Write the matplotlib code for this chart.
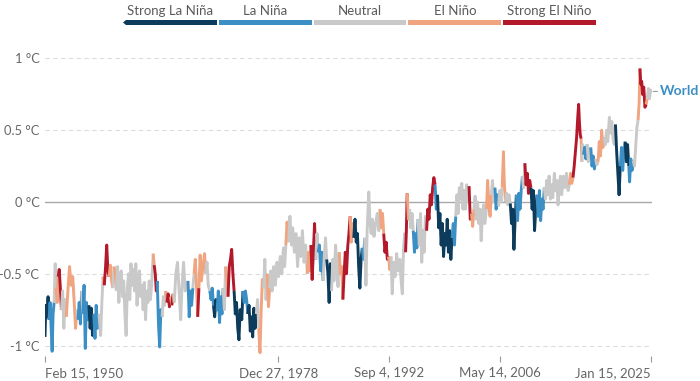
import matplotlib
matplotlib.use("Agg")
import matplotlib.pyplot as plt
from matplotlib.patches import Rectangle, Polygon

plt.rcParams['font.family'] = ['Lato', 'DejaVu Sans']

# monthly-ish global temperature anomaly (deg C)
years = [
    1950.12, 1950.22, 1950.35, 1950.50, 1950.62, 1950.75, 1950.90, 1951.00, 1951.12, 1951.25,
    1951.38, 1951.50, 1951.62, 1951.75, 1951.88, 1952.00, 1952.15, 1952.30, 1952.45, 1952.60,
    1952.75, 1952.95, 1953.15, 1953.35, 1953.55, 1953.75, 1953.90, 1954.05, 1954.20, 1954.35,
    1954.50, 1954.65, 1954.80, 1954.95, 1955.10, 1955.25, 1955.40, 1955.55, 1955.70, 1955.85,
    1956.00, 1956.15, 1956.30, 1956.45, 1956.60, 1956.80, 1957.00, 1957.15, 1957.30, 1957.45,
    1957.60, 1957.75, 1957.90, 1958.05, 1958.20, 1958.35, 1958.50, 1958.65, 1958.80, 1958.95,
    1959.10, 1959.25, 1959.40, 1959.55, 1959.70, 1959.85, 1960.00, 1960.15, 1960.30, 1960.45,
    1960.60, 1960.75, 1960.90, 1961.05, 1961.20, 1961.35, 1961.50, 1961.65, 1961.80, 1961.95,
    1962.10, 1962.25, 1962.40, 1962.55, 1962.70, 1962.85, 1963.00, 1963.15, 1963.30, 1963.50,
    1963.62, 1963.75, 1963.88, 1964.00, 1964.15, 1964.30, 1964.45, 1964.60, 1964.75, 1964.90,
    1965.05, 1965.20, 1965.35, 1965.50, 1965.65, 1965.80, 1965.95, 1966.10, 1966.30, 1966.50,
    1966.70, 1966.90, 1967.05, 1967.25, 1967.45, 1967.65, 1967.80, 1967.95, 1968.10, 1968.25,
    1968.40, 1968.55, 1968.70, 1968.85, 1969.00, 1969.15, 1969.30, 1969.45, 1969.65, 1969.85,
    1970.00, 1970.15, 1970.30, 1970.50, 1970.65, 1970.80, 1970.95, 1971.10, 1971.25, 1971.40,
    1971.55, 1971.70, 1971.85, 1972.00, 1972.15, 1972.30, 1972.45, 1972.60, 1972.75, 1972.90,
    1973.05, 1973.20, 1973.35, 1973.50, 1973.65, 1973.80, 1973.95, 1974.10, 1974.25, 1974.45,
    1974.60, 1974.75, 1974.90, 1975.05, 1975.20, 1975.35, 1975.50, 1975.65, 1975.80, 1975.95,
    1976.10, 1976.25, 1976.40, 1976.55, 1976.70, 1976.85, 1977.00, 1977.15, 1977.30, 1977.45,
    1977.60, 1977.75, 1977.90, 1978.05, 1978.20, 1978.40, 1978.60, 1978.80, 1979.00, 1979.20,
    1979.40, 1979.60, 1979.75, 1979.90, 1980.05, 1980.25, 1980.40, 1980.60, 1980.75, 1980.95,
    1981.15, 1981.35, 1981.55, 1981.75, 1981.95, 1982.15, 1982.35, 1982.55, 1982.70, 1982.85,
    1983.00, 1983.15, 1983.30, 1983.45, 1983.60, 1983.75, 1983.90, 1984.05, 1984.20, 1984.35,
    1984.50, 1984.65, 1984.80, 1984.95, 1985.10, 1985.25, 1985.40, 1985.55, 1985.70, 1985.85,
    1986.05, 1986.20, 1986.35, 1986.50, 1986.65, 1986.80, 1986.95, 1987.10, 1987.25, 1987.40,
    1987.55, 1987.70, 1987.85, 1988.00, 1988.15, 1988.30, 1988.45, 1988.60, 1988.75, 1988.90,
    1989.05, 1989.20, 1989.35, 1989.50, 1989.65, 1989.80, 1989.95, 1990.15, 1990.30, 1990.45,
    1990.60, 1990.80, 1991.00, 1991.20, 1991.40, 1991.55, 1991.70, 1991.85, 1992.00, 1992.15,
    1992.30, 1992.45, 1992.60, 1992.75, 1992.90, 1993.05, 1993.20, 1993.40, 1993.60, 1993.80,
    1994.00, 1994.15, 1994.30, 1994.45, 1994.60, 1994.70, 1994.80, 1994.90, 1995.05, 1995.20,
    1995.35, 1995.50, 1995.65, 1995.80, 1995.95, 1996.10, 1996.25, 1996.40, 1996.55, 1996.70,
    1996.85, 1997.00, 1997.15, 1997.30, 1997.45, 1997.60, 1997.75, 1997.90, 1998.05, 1998.20,
    1998.35, 1998.50, 1998.65, 1998.80, 1998.95, 1999.10, 1999.25, 1999.40, 1999.55, 1999.70,
    1999.85, 2000.00, 2000.15, 2000.30, 2000.45, 2000.60, 2000.75, 2000.90, 2001.05, 2001.20,
    2001.35, 2001.50, 2001.65, 2001.80, 2001.95, 2002.10, 2002.25, 2002.40, 2002.55, 2002.70,
    2002.85, 2003.00, 2003.15, 2003.30, 2003.45, 2003.60, 2003.75, 2003.90, 2004.05, 2004.20,
    2004.35, 2004.50, 2004.70, 2004.85, 2005.00, 2005.15, 2005.30, 2005.45, 2005.60, 2005.75,
    2005.90, 2006.05, 2006.20, 2006.35, 2006.50, 2006.65, 2006.80, 2006.90, 2007.05, 2007.20,
    2007.35, 2007.50, 2007.65, 2007.80, 2007.95, 2008.10, 2008.25, 2008.40, 2008.55, 2008.70,
    2008.85, 2009.00, 2009.15, 2009.30, 2009.45, 2009.60, 2009.75, 2009.90, 2010.05, 2010.20,
    2010.35, 2010.50, 2010.65, 2010.80, 2010.95, 2011.10, 2011.25, 2011.40, 2011.55, 2011.70,
    2011.85, 2012.00, 2012.15, 2012.30, 2012.45, 2012.60, 2012.75, 2012.90, 2013.10, 2013.25,
    2013.40, 2013.55, 2013.70, 2013.85, 2014.00, 2014.20, 2014.40, 2014.60, 2014.80, 2014.95,
    2015.10, 2015.25, 2015.40, 2015.55, 2015.70, 2015.85, 2016.00, 2016.10, 2016.20, 2016.30,
    2016.40, 2016.50, 2016.60, 2016.70, 2016.85, 2017.00, 2017.15, 2017.30, 2017.45, 2017.60,
    2017.75, 2017.90, 2018.05, 2018.20, 2018.35, 2018.50, 2018.65, 2018.80, 2018.95, 2019.10,
    2019.25, 2019.40, 2019.55, 2019.70, 2019.90, 2020.05, 2020.20, 2020.35, 2020.50, 2020.65,
    2020.80, 2020.95, 2021.10, 2021.25, 2021.40, 2021.55, 2021.70, 2021.85, 2022.00, 2022.15,
    2022.30, 2022.40, 2022.55, 2022.70, 2022.85, 2023.00, 2023.15, 2023.30, 2023.45, 2023.58,
    2023.68, 2023.78, 2023.90, 2024.00, 2024.15, 2024.30, 2024.45, 2024.58, 2024.72, 2024.85,
    2025.00, 2025.15,
]

anomaly = [
    -0.94, -0.72, -0.80, -0.66, -0.82, -0.70, -0.90, -1.04, -0.78, -0.70,
    -0.43, -0.60, -0.70, -0.52, -0.47, -0.58, -0.75, -0.62, -0.88, -0.68,
    -0.80, -0.62, -0.45, -0.58, -0.52, -0.72, -0.88, -0.75, -0.82, -0.70,
    -0.85, -0.62, -0.78, -0.58, -1.02, -0.70, -0.82, -0.72, -0.88, -0.74,
    -0.93, -0.78, -0.95, -0.72, -0.88, -0.78, -0.93, -0.70, -0.52, -0.58,
    -0.46, -0.30, -0.48, -0.52, -0.44, -0.55, -0.60, -0.45, -0.50, -0.62,
    -0.45, -0.70, -0.52, -0.48, -0.66, -0.55, -0.78, -0.93, -0.60, -0.50,
    -0.68, -0.43, -0.58, -0.47, -0.62, -0.43, -0.72, -0.55, -0.48, -0.66,
    -0.58, -0.75, -0.56, -0.82, -0.62, -0.70, -0.55, -0.68, -0.58, -0.36,
    -0.44, -0.50, -0.62, -0.55, -0.85, -1.01, -0.75, -0.80, -0.66, -0.72,
    -0.62, -0.70, -0.64, -0.73, -0.66, -0.72, -0.64, -0.70, -0.50, -0.42,
    -0.62, -0.82, -0.60, -0.42, -0.62, -0.58, -0.55, -0.80, -0.62, -0.72,
    -0.60, -0.50, -0.40, -0.58, -0.80, -0.60, -0.37, -0.55, -0.45, -0.36,
    -0.50, -0.42, -0.58, -0.62, -0.68, -0.60, -0.72, -0.80, -0.68, -0.76,
    -0.62, -0.84, -0.66, -0.78, -0.60, -0.75, -0.45, -0.55, -0.66, -0.45,
    -0.40, -0.33, -0.50, -0.62, -0.78, -0.70, -0.88, -0.96, -0.75, -0.82,
    -0.62, -0.70, -0.62, -0.68, -0.78, -0.72, -0.90, -0.80, -0.94, -0.74,
    -0.88, -0.78, -0.68, -0.88, -1.05, -0.75, -0.54, -0.60, -0.40, -0.68,
    -0.50, -0.73, -0.60, -0.48, -0.62, -0.45, -0.58, -0.42, -0.52, -0.38,
    -0.50, -0.32, -0.45, -0.30, -0.14, -0.28, -0.10, -0.30, -0.18, -0.35,
    -0.22, -0.45, -0.25, -0.38, -0.20, -0.42, -0.30, -0.50, -0.35, -0.48,
    -0.30, -0.54, -0.35, -0.15, -0.40, -0.22, -0.35, -0.30, -0.48, -0.35,
    -0.55, -0.38, -0.25, -0.40, -0.50, -0.70, -0.43, -0.62, -0.40, -0.55,
    -0.30, -0.45, -0.59, -0.35, -0.50, -0.45, -0.68, -0.50, -0.35, -0.50,
    -0.31, -0.22, -0.10, -0.28, -0.15, -0.25, -0.12, -0.28, -0.22, -0.45,
    -0.60, -0.40, -0.32, -0.40, -0.25, -0.58, -0.20, 0.07, -0.15, -0.22,
    -0.12, -0.24, -0.15, -0.08, -0.20, -0.05, -0.18, -0.08, -0.22, -0.35,
    -0.28, -0.40, -0.38, -0.47, -0.38, -0.64, -0.42, -0.52, -0.36, -0.48,
    -0.40, -0.55, -0.64, -0.32, -0.22, -0.35, -0.20, 0.06, -0.12, -0.05,
    -0.18, -0.08, -0.20, -0.35, -0.22, -0.32, -0.12, -0.30, -0.08, -0.42,
    -0.20, -0.35, -0.10, -0.20, -0.05, -0.12, 0.05, -0.02, 0.10, 0.17,
    0.12, -0.05, 0.05, -0.18, -0.08, -0.30, -0.15, -0.38, -0.22, -0.30,
    -0.12, -0.35, -0.20, -0.40, -0.25, -0.15, -0.30, -0.10, 0.05, -0.08,
    0.10, 0.02, 0.13, -0.05, 0.08, -0.05, 0.12, 0.00, 0.11, -0.12,
    -0.08, -0.17, -0.05, 0.04, -0.12, 0.00, -0.15, -0.05, -0.27, -0.10,
    -0.02, -0.15, -0.05, 0.15, -0.02, -0.10, 0.05, 0.15, 0.00, 0.10,
    -0.05, 0.05, -0.03, 0.08, 0.00, 0.10, 0.35, 0.15, 0.00, 0.06,
    -0.02, 0.05, -0.01, -0.15, -0.05, -0.33, -0.12, 0.05, -0.13, 0.06,
    -0.05, 0.08, 0.18, 0.10, 0.27, 0.12, 0.20, 0.06, 0.15, 0.10,
    -0.05, 0.08, -0.20, -0.05, 0.05, -0.10, 0.08, -0.13, 0.02, -0.05,
    0.10, 0.02, 0.15, 0.05, 0.18, 0.02, 0.12, 0.03, 0.20, 0.08,
    0.15, -0.02, 0.12, 0.18, 0.05, 0.18, 0.10, 0.20, 0.08, 0.12,
    0.20, 0.13, 0.17, 0.25, 0.35, 0.45, 0.60, 0.68, 0.55, 0.47,
    0.44, 0.28, 0.40, 0.33, 0.38, 0.30, 0.40, 0.28, 0.36, 0.38,
    0.25, 0.32, 0.23, 0.30, 0.26, 0.28, 0.42, 0.32, 0.50, 0.38,
    0.45, 0.40, 0.50, 0.42, 0.59, 0.48, 0.56, 0.44, 0.40, 0.54,
    0.35, 0.20, 0.05, 0.25, 0.38, 0.22, 0.35, 0.42, 0.28, 0.40,
    0.25, 0.14, 0.30, 0.22, 0.29, 0.25, 0.38, 0.52, 0.57, 0.69,
    0.93, 0.82, 0.84, 0.75, 0.80, 0.66, 0.68, 0.72, 0.79, 0.72,
    0.78, 0.77,
]

# ENSO phase per point: SL strong La Nina, L La Nina, N neutral, E El Nino, SE strong El Nino
phase = (
    "SL SL SL SL L L L L L N "
    "N E E SE SE SE N N N N "
    "E E E E E E E N L L "
    "L N L L L L L SL SL SL "
    "SL L L L L N N N E SE "
    "SE SE SE E E E N E E N "
    "N N N N N N N N N N "
    "N N N N N N N N N N "
    "N N N N N N N N N E "
    "SE SE SE L L L L N N N "
    "E SE SE SE E SE E N N N "
    "N N N N N N L L L L "
    "N E E E SE E E E E E "
    "N N N L L L SL SL SL L "
    "L L L L N N E E SE SE "
    "SE SE SE SL SL SL SL SL SL SL "
    "L L L L SL SL SL SL SL SL "
    "SL N N E E E E N N N "
    "E E N N N N N N N N "
    "N N N E E N N N N N "
    "N N N N N N N E E E "
    "SE SE SE SE N N L L L L "
    "N N N SL SL SL SL N N N "
    "N N N E E E SE SE SE SE "
    "SE SE E E E SL SL SL SL SL "
    "SL SL L L N N N N N N "
    "N N N N N E E E SE SE "
    "SE SE E E N N N N N N "
    "N N N N N SE SE E E N "
    "N N L L L L N N N N "
    "N N N SE SE SE SE SE SE SE "
    "L L SL SL SL SL SL SL SL SL "
    "SL SL SL SL L L L N N N "
    "N N N N N N N N SE SE "
    "E E N N N N N N N N "
    "N N E E E E N N N L "
    "L L N N N E E E N N "
    "N N SL SL SL SL SL L L L "
    "L L N N SE SE SE SE SE SL "
    "SL SL SL SL L L L L L L "
    "N N N N N N N N N N "
    "N N N N N N N N N E "
    "E E SE SE SE SE SE SE SE SE "
    "E N N L L L N N N L "
    "L L L N N E E E E E "
    "N N N N N N N N N SL "
    "SL SL SL L L L L SL SL SL "
    "L L L L N N N N E E "
    "SE SE SE SE SE SE E N N N "
    "N N"
).split()

phase_colors = {
    "SL": "#0d3b5b",
    "L": "#3b8fc4",
    "N": "#c9c9c9",
    "E": "#f0a47f",
    "SE": "#b3182b",
}
legend_labels = ["Strong La Niña", "La Niña", "Neutral", "El Niño", "Strong El Niño"]
legend_keys = ["SL", "L", "N", "E", "SE"]

tick_years = [1950.12, 1978.99, 1992.68, 2006.37, 2025.04]
tick_labels = ["Feb 15, 1950", "Dec 27, 1978", "Sep 4, 1992", "May 14, 2006", "Jan 15, 2025"]

W, H = 700, 381
fig = plt.figure(figsize=(7.0, 3.81), dpi=100)
ax = fig.add_axes([45 / W, 1 - 356 / H, (652 - 45) / W, (356 - 55) / H])

# draw the line in runs of the same phase
start = 0
for i in range(1, len(years) + 1):
    if i == len(years) or phase[i] != phase[start]:
        end = min(i + 1, len(years))
        ax.plot(years[start:end], anomaly[start:end], color=phase_colors[phase[start]],
                lw=2.1, solid_joinstyle='round', solid_capstyle='butt', zorder=3)
        start = i

for v in [-1, -0.5, 0.5, 1]:
    ax.axhline(v, color="#dcdcdc", lw=0.8, ls=(0, (4, 3)), zorder=1)
ax.axhline(0, color="#a8a8a8", lw=1.0, zorder=1)

ax.set_xlim(1950.12, 2025.17)
ax.set_ylim(-1.073, 1.024)
for s in ax.spines.values():
    s.set_visible(False)

ax.set_yticks([-1, -0.5, 0, 0.5, 1])
ax.set_yticklabels(["-1 °C", "-0.5 °C", "0 °C", "0.5 °C", "1 °C"])
ax.tick_params(axis='y', length=0, pad=4, labelsize=9.3, labelcolor="#666666")

ax.set_xticks(tick_years)
ax.set_xticklabels(tick_labels)
ax.tick_params(axis='x', length=4, width=0.8, color="#999999", pad=4,
               labelsize=9.5, labelcolor="#666666")
xt = ax.get_xticklabels()
xt[0].set_horizontalalignment('left')
xt[-1].set_horizontalalignment('right')

ax.annotate("World", xy=(years[-1], anomaly[-1]), xytext=(6, 0), textcoords='offset points',
            color="#3b8fc4", fontsize=10, fontweight='bold', va='center', ha='left',
            arrowprops=dict(arrowstyle='-', color="#999999", lw=0.8, shrinkA=0, shrinkB=1),
            annotation_clip=False)

# colour legend on top
lx0, lx1 = 123 / W, 597 / W
seg = (lx1 - lx0) / 5
ly, lh = 1 - 25 / H, 5 / H
for k, key in enumerate(legend_keys):
    x0 = lx0 + k * seg + (0.0 if k == 0 else 1 / W)
    x1 = lx0 + (k + 1) * seg - 1 / W
    if k == 0:
        x0 += 3 / W
        fig.patches.append(Polygon([[lx0, ly + lh / 2], [x0, ly + lh], [x0, ly]], closed=True,
                                   transform=fig.transFigure, color=phase_colors[key], lw=0))
    fig.patches.append(Rectangle((x0, ly), x1 - x0, lh, transform=fig.transFigure,
                                 color=phase_colors[key], lw=0))
    fig.text(lx0 + (k + 0.5) * seg, 1 - 11 / H, legend_labels[k], ha='center', va='center',
             fontsize=9.5, color="#5b5b5b")

fig.savefig("out.png", dpi=100, facecolor="white")
